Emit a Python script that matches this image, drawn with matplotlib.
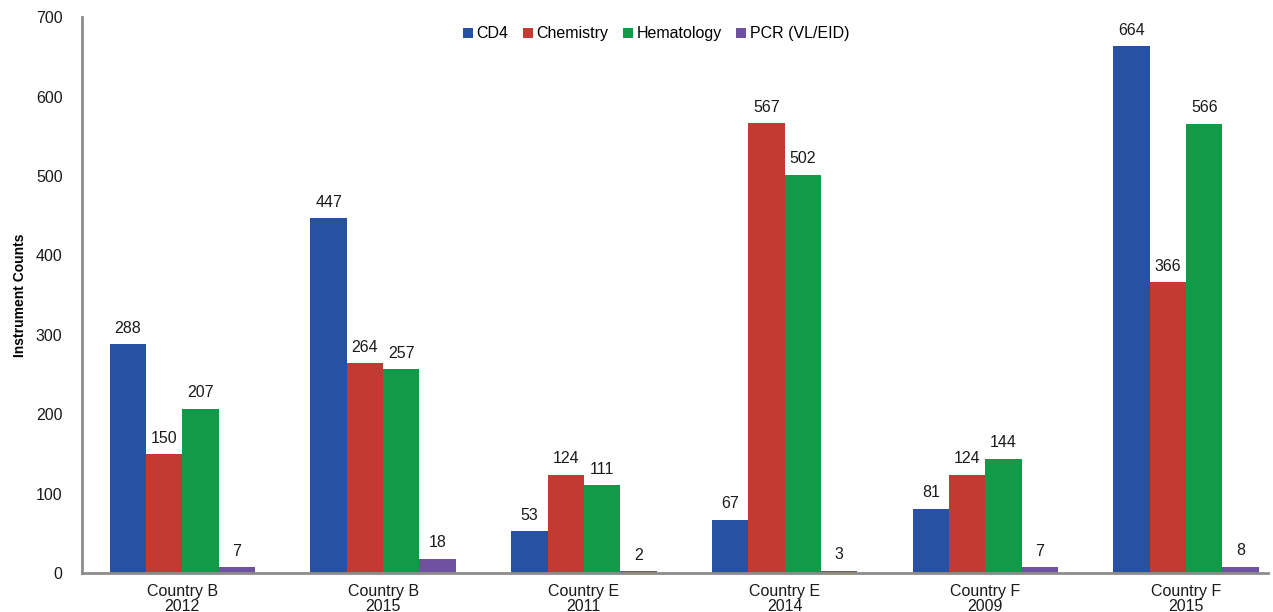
import numpy as np
import matplotlib.pyplot as plt

plt.rcParams['font.family'] = ['Liberation Sans', 'DejaVu Sans']

# Instrument counts per country/year survey
groups = ['Country B\n2012', 'Country B\n2015', 'Country E\n2011',
          'Country E\n2014', 'Country F\n2009', 'Country F\n2015']
cd4 = [288, 447, 53, 67, 81, 664]
chemistry = [150, 264, 124, 567, 124, 366]
hematology = [207, 257, 111, 502, 144, 566]
pcr = [7, 18, 2, 3, 7, 8]

series = [('CD4', cd4, '#2751a3'),
          ('Chemistry', chemistry, '#c33a32'),
          ('Hematology', hematology, '#139a48'),
          ('PCR (VL/EID)', pcr, '#7050a0')]

fig = plt.figure(figsize=(12.73, 6.12), dpi=100)
ax = fig.add_axes([0.0644, 0.0637, 0.932, 0.908])

x = np.arange(len(groups))
w = 0.181
for i, (name, vals, color) in enumerate(series):
    pos = x + (i - 1.5) * w
    bars = ax.bar(pos, vals, width=w, color=color, label=name)
    for b, v in zip(bars, vals):
        ax.annotate(str(v), (b.get_x() + b.get_width() / 2, v),
                    xytext=(0, 6), textcoords='offset points',
                    ha='center', va='bottom', fontsize=11.5, color='#1a1a1a')

ax.set_xlim(-0.5, 5.41)
ax.set_ylim(0, 700)
ax.set_yticks(range(0, 701, 100))
ax.set_xticks(x)
ax.set_xticklabels(groups, fontsize=11.5, linespacing=0.95)
ax.tick_params(axis='both', length=0, labelsize=11.5, colors='#1a1a1a')
ax.tick_params(axis='y', pad=14)
ax.tick_params(axis='x', pad=8)

for s in ['top', 'right']:
    ax.spines[s].set_visible(False)
for s in ['left', 'bottom']:
    ax.spines[s].set_color('#8c8c8c')
    ax.spines[s].set_linewidth(2)

ax.set_ylabel('Instrument Counts', fontsize=10, fontweight='bold', labelpad=6)

ax.legend(loc='upper center', bbox_to_anchor=(0.484, 0.995), ncol=4, frameon=False,
          fontsize=11.5, handlelength=0.6, handleheight=0.6, handletextpad=0.25,
          columnspacing=0.9, borderaxespad=0.0)

fig.savefig('out.png', dpi=100)
